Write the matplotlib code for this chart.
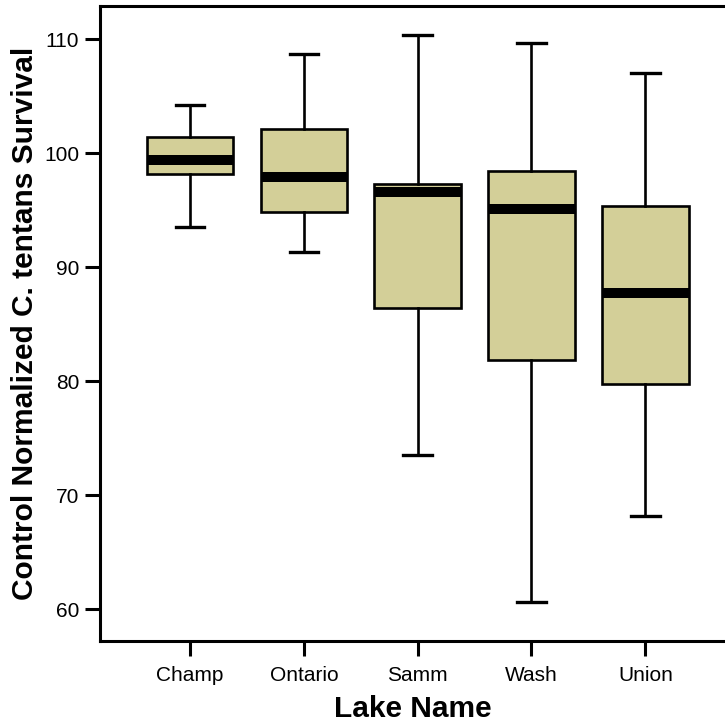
import matplotlib
matplotlib.use("Agg")
import matplotlib.pyplot as plt

# Box plot summary
lakes = ["Champ", "Ontario", "Samm", "Wash", "Union"]
whisker_low = [93.5, 91.3, 73.5, 60.6, 68.2]
q1 = [98.2, 94.8, 86.4, 81.9, 79.8]
medians = [99.4, 97.9, 96.6, 95.1, 87.7]
q3 = [101.4, 102.1, 97.3, 98.4, 95.4]
whisker_high = [104.2, 108.7, 110.4, 109.7, 107.0]
y_ticks = [60, 70, 80, 90, 100, 110]

plt.rcParams['font.family'] = ['Liberation Sans', 'DejaVu Sans']

stats = []
for i, name in enumerate(lakes):
    stats.append({
        "label": name,
        "whislo": whisker_low[i],
        "q1": q1[i],
        "med": medians[i],
        "q3": q3[i],
        "whishi": whisker_high[i],
        "fliers": [],
    })

fig = plt.figure(figsize=(7.25, 7.25), dpi=100)
ax = fig.add_axes([0.138, 0.1152, 0.862, 0.8765])

ax.bxp(stats, positions=range(1, len(lakes) + 1), widths=0.76,
       patch_artist=True, showfliers=False,
       boxprops=dict(facecolor="#d3cf98", edgecolor="black", linewidth=1.9),
       medianprops=dict(color="black", linewidth=7.2, solid_capstyle="butt"),
       whiskerprops=dict(color="black", linewidth=1.9),
       capprops=dict(color="black", linewidth=2.4),
       capwidths=0.25)

ax.set_xlim(0.21, 5.70)
ax.set_ylim(57.18, 112.9)
ax.set_yticks(y_ticks)
ax.set_xticks(range(1, len(lakes) + 1))
ax.set_xticklabels(lakes)

for side in ["left", "bottom", "top"]:
    ax.spines[side].set_linewidth(2.2)
ax.spines["right"].set_visible(False)
ax.tick_params(axis="both", length=11, width=2.2, labelsize=15)
ax.tick_params(axis="x", pad=7)
ax.tick_params(axis="y", pad=4)

ax.set_xlabel("Lake Name", fontsize=21.5, fontweight="bold", labelpad=7)
ax.set_ylabel("Control Normalized C. tentans Survival", fontsize=21.5,
              fontweight="bold", labelpad=3.5)

fig.savefig("out.png", dpi=100)
